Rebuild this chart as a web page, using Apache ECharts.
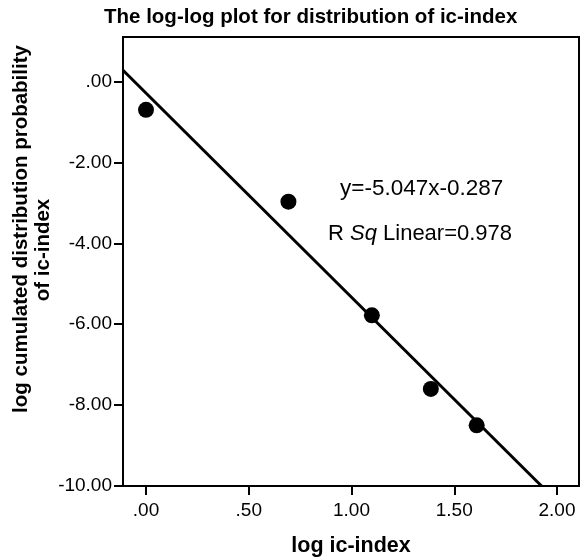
<!DOCTYPE html>
<html>
<head>
<meta charset="utf-8">
<script src="https://cdn.jsdelivr.net/npm/echarts@6/dist/echarts.min.js"></script>
<style>html,body{margin:0;padding:0;background:#fff;}#c{width:584px;height:560px;}</style>
</head>
<body>
<div id="c"></div>
<script>
// Data
const logIcIndex = [0.0, 0.693, 1.099, 1.386, 1.609];
const logCumProb = [-0.70, -2.97, -5.78, -7.60, -8.50];
const fitSlope = -5.047;
const fitIntercept = -0.287;
const rSquared = 0.978;
const xTickValues = [0, 0.5, 1, 1.5, 2];
const yTickValues = [-10, -8, -6, -4, -2, 0];
const xRange = [-0.112, 2.107];
const yRange = [-10, 1.1];

const titleText = 'The log-log plot for distribution of ic-index';
const xName = 'log ic-index';
const yNameLine1 = 'log cumulated distribution probability';
const yNameLine2 = 'of ic-index';

function fmt(v) {
  let s = Number(v).toFixed(2);
  s = s.replace(/^(-?)0\./, '$1.');
  return s;
}

const points = logIcIndex.map((x, i) => [x, logCumProb[i]]);
// fit line endpoints from the equation, clipped to the axis range
const xStart = xRange[0];
const xEnd = (yRange[0] - fitIntercept) / fitSlope;
const fitLine = [[xStart, fitSlope * xStart + fitIntercept], [xEnd, fitSlope * xEnd + fitIntercept]];

const FONT = '"Liberation Sans", Arial, sans-serif';
const chart = echarts.init(document.getElementById('c'), null, {renderer: 'canvas'});
chart.setOption({
  animation: false,
  backgroundColor: '#ffffff',
  title: {
    text: titleText,
    left: 104, top: 7, padding: 0,
    textStyle: {fontFamily: FONT, fontWeight: 'bold', fontSize: 20.5, color: '#000'}
  },
  grid: {
    left: 123, top: 37, right: 5, bottom: 74,
    containLabel: false, outerBoundsMode: 'none',
    show: true, borderColor: '#000', borderWidth: 2, backgroundColor: '#fff'
  },
  xAxis: {
    type: 'value', min: xRange[0], max: xRange[1],
    name: xName, nameLocation: 'middle', nameGap: 49, nameMoveOverlap: false,
    nameTextStyle: {fontFamily: FONT, fontWeight: 'bold', fontSize: 21.5, color: '#000'},
    axisLine: {show: true, onZero: false, lineStyle: {color: '#000', width: 2}},
    axisTick: {show: true, length: 9, customValues: xTickValues, lineStyle: {color: '#000', width: 2}},
    axisLabel: {customValues: xTickValues, formatter: fmt, margin: 15, fontFamily: FONT, fontSize: 19, color: '#000'},
    splitLine: {show: false}
  },
  yAxis: {
    type: 'value', min: yRange[0], max: yRange[1],
    name: '{a|' + yNameLine1 + '}\n{b|' + yNameLine2 + '}',
    nameLocation: 'middle', nameGap: 69, nameRotate: 90, nameMoveOverlap: false,
    nameTextStyle: {
      fontFamily: FONT, fontWeight: 'bold', fontSize: 20, color: '#000', lineHeight: 22,
      rich: {
        a: {fontFamily: FONT, fontWeight: 'bold', fontSize: 20.5, color: '#000', lineHeight: 22, padding: [0, 0, 0, 65]},
        b: {fontFamily: FONT, fontWeight: 'bold', fontSize: 20.5, color: '#000', lineHeight: 22, padding: [0, 0, 0, 23]}
      }
    },
    axisLine: {show: true, onZero: false, lineStyle: {color: '#000', width: 2}},
    axisTick: {show: true, length: 9, customValues: yTickValues, lineStyle: {color: '#000', width: 2}},
    axisLabel: {customValues: yTickValues, formatter: fmt, margin: 11, fontFamily: FONT, fontSize: 19, color: '#000'},
    splitLine: {show: false}
  },
  graphic: [
    {
      type: 'text', left: 340, top: 177,
      style: {text: 'y=' + fitSlope + 'x' + fitIntercept, font: '22.5px ' + FONT, fill: '#000'}
    },
    {
      type: 'text', left: 328, top: 223,
      style: {
        text: 'R {i|Sq} Linear=' + rSquared,
        font: '22px ' + FONT, fill: '#000',
        rich: {i: {fontStyle: 'italic', fontSize: 22, fontFamily: FONT, fill: '#000', color: '#000'}}
      }
    }
  ],
  series: [
    {
      type: 'line', data: fitLine, showSymbol: false, symbol: 'none',
      lineStyle: {color: '#000', width: 3}, z: 2, silent: true
    },
    {
      type: 'scatter', data: points, symbol: 'circle', symbolSize: 16,
      itemStyle: {color: '#000', opacity: 1}, z: 3
    }
  ]
});
</script>
</body>
</html>
